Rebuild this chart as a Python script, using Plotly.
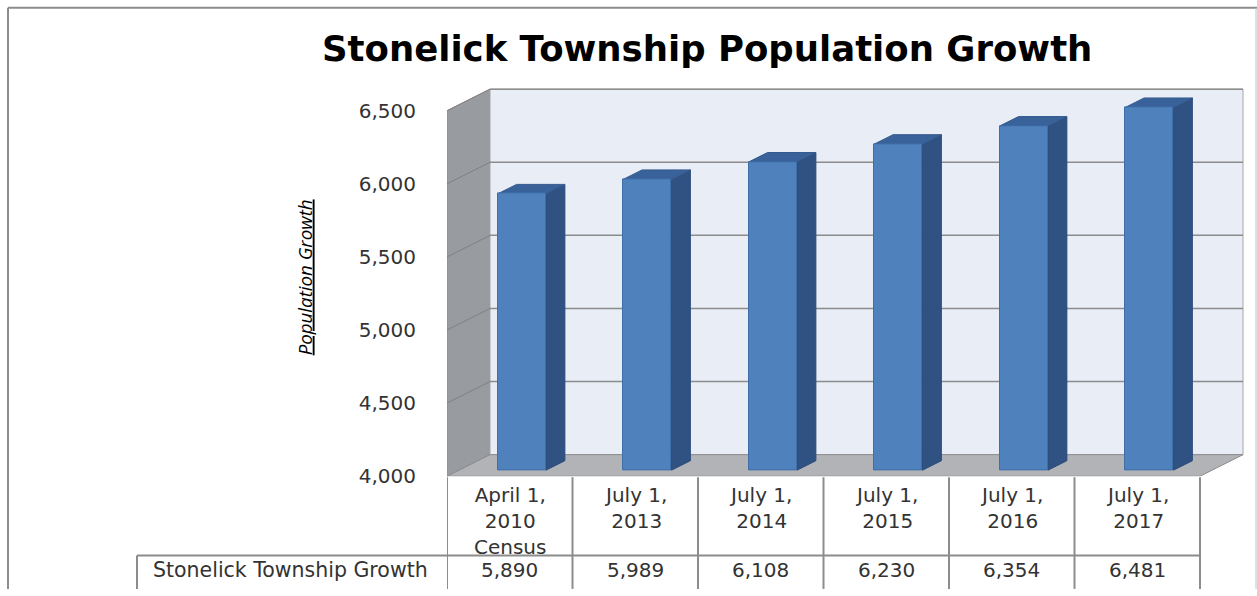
import plotly.graph_objects as go

# ---------------- data ----------------
categories = ["April 1,<br>2010<br>Census", "July 1,<br>2013", "July 1,<br>2014",
              "July 1,<br>2015", "July 1,<br>2016", "July 1,<br>2017"]
values = [5890, 5989, 6108, 6230, 6354, 6481]
series_name = "Stonelick Township Growth"
y_ticks = [4000, 4500, 5000, 5500, 6000, 6500]
title_text = "Stonelick Township Population Growth"
y_title = "Population Growth"

# ---------------- geometry (pixels) ----------------
W, H = 1257, 596
X0 = 447            # front-left x of the category area
CW = 125.5          # column width
Y0 = 486            # pixel row of the axis minimum on the front plane
KPX = 0.1492        # pixels per unit
YTOP = 80           # top of plotting domain
DXP, DYP = 43, 22   # 3-D depth offset
D0, D1 = 0.28, 0.72 # bar depth span (fraction of full depth)
BARW = 0.385        # bar width in column units

VMIN = y_ticks[0]
x_hi = (W - X0) / CW
y_hi = VMIN + (Y0 - YTOP) / KPX
DX = DXP / CW
DY = DYP / KPX

def px(x):
    return x / W

def py(y):
    return 1 - y / H

n = len(values)
centers = [i + 0.5 for i in range(n)]

fig = go.Figure()

# ---------------- walls & gridlines ----------------
shapes = []
top = y_ticks[-1]
shapes.append(dict(type="path", xref="x", yref="y", layer="below",
                   path=f"M 0 {VMIN} L {DX} {VMIN+DY} L {DX} {top+DY} L 0 {top} Z",
                   fillcolor="#989B9F", line=dict(color="#8C8C8C", width=1)))
shapes.append(dict(type="path", xref="x", yref="y", layer="below",
                   path=f"M {DX} {VMIN+DY} L {n+DX} {VMIN+DY} L {n+DX} {top+DY} L {DX} {top+DY} Z",
                   fillcolor="#E9EDF5", line=dict(color="#A6A6A6", width=1)))
shapes.append(dict(type="path", xref="x", yref="y", layer="below",
                   path=f"M 0 {VMIN} L {n} {VMIN} L {n+DX} {VMIN+DY} L {DX} {VMIN+DY} Z",
                   fillcolor="#B1B3B7", line=dict(color="#8C8C8C", width=1)))
for t in y_ticks[1:]:
    shapes.append(dict(type="line", xref="x", yref="y", layer="below",
                       x0=DX, x1=n + DX, y0=t + DY, y1=t + DY,
                       line=dict(color="#8C8C8C", width=1.5)))
    shapes.append(dict(type="line", xref="x", yref="y", layer="below",
                       x0=0, x1=DX, y0=t, y1=t + DY,
                       line=dict(color="#808080", width=1)))

# ---------------- bar side & top faces ----------------
sx, sy, tx, ty = [], [], [], []
for c, v in zip(centers, values):
    xl, xr = c - BARW / 2, c + BARW / 2
    sx += [xr + D0*DX, xr + D1*DX, xr + D1*DX, xr + D0*DX, xr + D0*DX, None]
    sy += [VMIN + D0*DY, VMIN + D1*DY, v + D1*DY, v + D0*DY, VMIN + D0*DY, None]
    tx += [xl + D0*DX, xr + D0*DX, xr + D1*DX, xl + D1*DX, xl + D0*DX, None]
    ty += [v + D0*DY, v + D0*DY, v + D1*DY, v + D1*DY, v + D0*DY, None]

fig.add_trace(go.Scatter(x=sx, y=sy, mode="lines", fill="toself",
                         fillcolor="#2F5283", line=dict(color="#2B4C7A", width=1),
                         hoverinfo="skip", showlegend=False))
fig.add_trace(go.Scatter(x=tx, y=ty, mode="lines", fill="toself",
                         fillcolor="#3A629A", line=dict(color="#345A8E", width=1),
                         hoverinfo="skip", showlegend=False))

# ---------------- bar front faces (depth-shifted overlay axes) ----------------
fig.add_trace(go.Bar(x=centers, y=[v - VMIN for v in values], base=VMIN,
                     width=BARW, marker=dict(color="#4F81BD", line=dict(color="#3F6FA8", width=1)),
                     customdata=values, hovertemplate="%{customdata:,}<extra></extra>",
                     xaxis="x2", yaxis="y2", showlegend=False))

# ---------------- data table ----------------
grid_c = "#8C8C8C"
for i in range(n + 1):
    shapes.append(dict(type="line", xref="x", yref="paper", x0=i, x1=i,
                       y0=py(487), y1=py(H + 5), line=dict(color=grid_c, width=2)))
shapes.append(dict(type="line", xref="paper", yref="paper", x0=px(137), x1=px(X0 + n*CW),
                   y0=py(567), y1=py(567), line=dict(color=grid_c, width=2)))
shapes.append(dict(type="line", xref="paper", yref="paper", x0=px(137), x1=px(137),
                   y0=py(567), y1=py(H + 5), line=dict(color=grid_c, width=2)))
# outer chart border
shapes.append(dict(type="line", xref="paper", yref="paper", x0=px(8), x1=px(W),
                   y0=py(8), y1=py(8), line=dict(color="#8C8C8C", width=2)))
shapes.append(dict(type="line", xref="paper", yref="paper", x0=px(8), x1=px(8),
                   y0=py(8), y1=py(H + 5), line=dict(color="#8C8C8C", width=2)))
shapes.append(dict(type="line", xref="paper", yref="paper", x0=px(1256), x1=px(1256),
                   y0=py(8), y1=py(H + 5), line=dict(color="#BFBFBF", width=1)))

annotations = []
body_font = dict(family="DejaVu Sans", size=20, color="#333333")
for c, lab, v in zip(centers, categories, values):
    annotations.append(dict(x=c, y=py(491), xref="x", yref="paper", text=lab,
                            showarrow=False, yanchor="top", xanchor="center",
                            font=body_font, align="center"))
    annotations.append(dict(x=c, y=py(582), xref="x", yref="paper", text=f"{v:,}",
                            showarrow=False, yanchor="middle", xanchor="center",
                            font=body_font))
annotations.append(dict(x=px(290), y=py(582), xref="paper", yref="paper", text=series_name,
                        showarrow=False, yanchor="middle", xanchor="center",
                        font=dict(family="DejaVu Sans", size=20.5, color="#333333")))
annotations.append(dict(x=px(707), y=py(50), xref="paper", yref="paper",
                        text=f"<b>{title_text}</b>", showarrow=False,
                        yanchor="middle", xanchor="center",
                        font=dict(family="DejaVu Sans", size=35.5, color="#000000")))
annotations.append(dict(x=px(304), y=py(283), xref="paper", yref="paper",
                        text=f"<u><i>{y_title}</i></u>", textangle=-90, showarrow=False,
                        yanchor="middle", xanchor="center",
                        font=dict(family="Open Sans", size=18.7, color="#000000")))

dom_x = [X0 / W, 1]
dom_y = [1 - Y0 / H, 1 - YTOP / H]
fig.update_layout(
    width=W, height=H, margin=dict(l=0, r=0, t=0, b=0),
    paper_bgcolor="white", plot_bgcolor="rgba(0,0,0,0)",
    shapes=shapes, annotations=annotations, showlegend=False, bargap=0,
    xaxis=dict(domain=dom_x, range=[0, x_hi], visible=False, fixedrange=True),
    yaxis=dict(domain=dom_y, range=[VMIN, y_hi], tickvals=y_ticks,
               ticktext=[f"{t:,}" for t in y_ticks], showgrid=False, zeroline=False,
               showline=False, ticks="", ticklabelstandoff=30,
               tickfont=dict(family="DejaVu Sans", size=20, color="#333333"),
               fixedrange=True),
    xaxis2=dict(domain=dom_x, range=[-D0*DX, x_hi - D0*DX], overlaying="x",
                visible=False, fixedrange=True),
    yaxis2=dict(domain=dom_y, range=[VMIN - D0*DY, y_hi - D0*DY], overlaying="y",
                visible=False, fixedrange=True),
)

fig.write_html("out.html", config={"displayModeBar": False},
               post_script="document.body.style.margin='0px';document.body.style.overflow='hidden';")
